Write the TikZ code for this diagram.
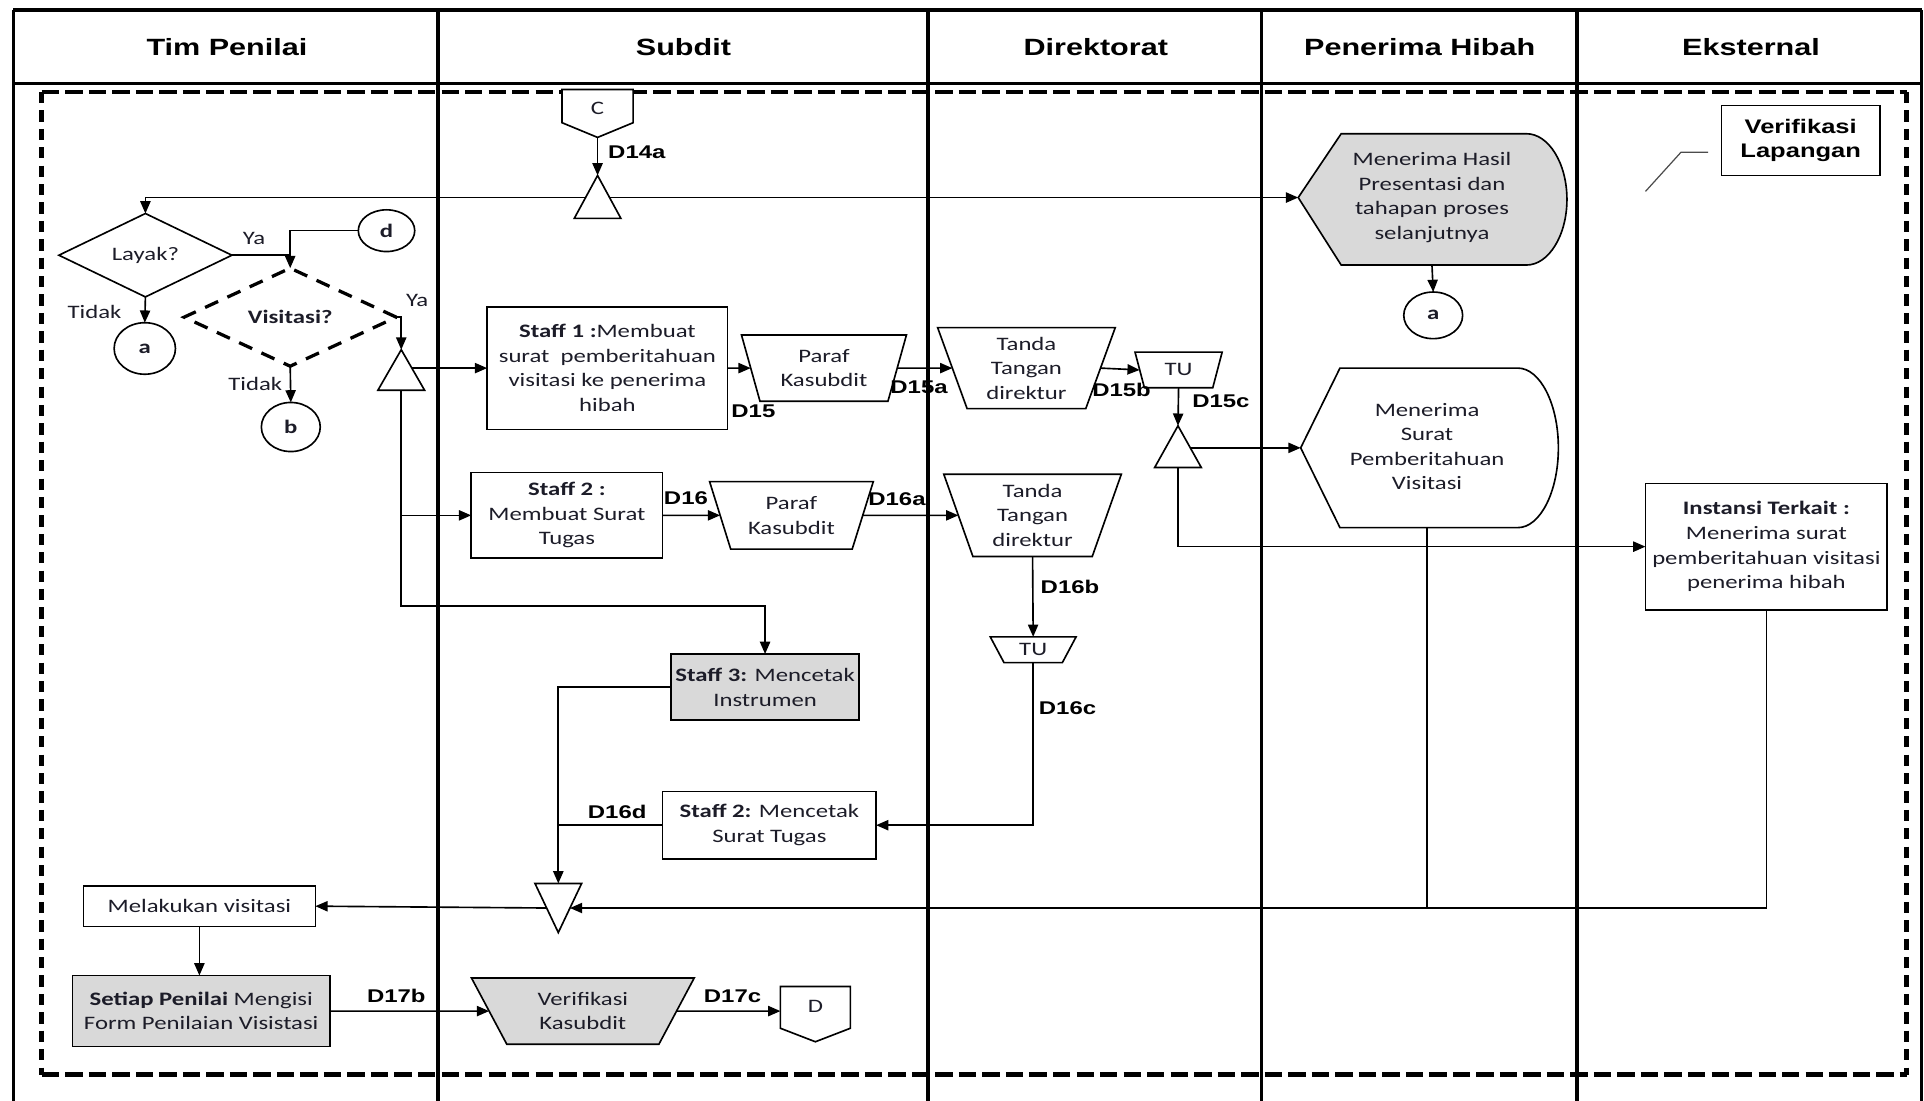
\documentclass[tikz,border=0pt]{standalone}
\usepackage{fontspec}
\setmainfont{Carlito}[FakeStretch=1.3]
\newfontfamily\hdfont{Liberation Sans}[FakeStretch=1.3]
\usetikzlibrary{shapes.geometric,arrows.meta,calc}
\definecolor{boxgray}{HTML}{D9D9D9}
\definecolor{txt}{HTML}{1C1C28}

\begin{document}
\begin{tikzpicture}[x=0.6pt,y=-0.6pt,
  every node/.style={inner sep=0pt, outer sep=0pt, text=txt,
    font=\fontsize{9.3}{12}\selectfont},
  wire/.style={line width=0.8pt},
  arr/.style={wire, -{Triangle[length=6pt,width=5pt]}},
  sz/.style 2 args={minimum width=#1*0.6pt, minimum height=#2*0.6pt},
  box/.style={draw, line width=0.8pt, rectangle, align=center},
  shadebox/.style={box, fill=boxgray},
  trap/.style={draw, line width=0.8pt, trapezium, shape border rotate=180,
    trapezium stretches=true, align=center},
  oval/.style={draw, line width=0.8pt, ellipse, font=\fontsize{9.3}{12}\selectfont\bfseries},
  dlabel/.style={font=\hdfont\fontsize{9}{11}\selectfont\bfseries, text=black},
  lane/.style={line width=1.8pt, black},
  frame/.style={line width=2.4pt, black}
]
\useasboundingbox (0,0) rectangle (1568,897);

% ---- swimlane frame ----
\draw[lane] (11,8) -- (1566,8);
\draw[lane] (11,68) -- (1566,68);
\draw[lane] (11,8) -- (11,897);
\draw[lane] (1566,8) -- (1566,897);
\foreach \xx in {357,756,1028,1285} \draw[lane] (\xx,8) -- (\xx,897);

\begin{scope}[every node/.style={font=\hdfont\fontsize{11.5}{13}\selectfont\bfseries, text=black}]
  \node (hTim) at (185,38) {Tim Penilai};
  \node (hSub) at (557,38) {Subdit};
  \node (hDir) at (893,38) {Direktorat};
  \node (hPen) at (1157,38) {Penerima Hibah};
  \node (hEks) at (1427,38) {Eksternal};
\end{scope}

% ---- dashed process boundary ----
\draw[frame, dash pattern=on 8.5pt off 3pt] (34,75) -- (1554,75);
\draw[frame, dash pattern=on 8.5pt off 3pt] (34,876) -- (1554,876);
\draw[frame, dash pattern=on 5.5pt off 3.5pt] (34,75) -- (34,876);
\draw[frame, dash pattern=on 5.5pt off 3.5pt] (1554,75) -- (1554,876);

% ---- off-page connector C and first merge ----
\draw[wire, fill=white] (458,73) -- (516,73) -- (516,100) -- (487,112) -- (458,100) -- cycle;
\node[font=\fontsize{9.3}{12}\selectfont] (cC) at (487,88) {C};
\coordinate (cCs) at (487,112);
\draw[wire, fill=white] (487,143) -- (506,178) -- (468,178) -- cycle;
\coordinate (m1top) at (487,143);
\coordinate (m1w) at (477,161);
\coordinate (m1e) at (497,161);

% ---- Tim Penilai decisions ----
\node[draw, line width=0.8pt, diamond, sz={141}{56}] (layak) at (118.5,208) {Layak?};
\node[draw, dashed, line width=1.6pt, dash pattern=on 7pt off 5pt, diamond, sz={173}{61},
  font=\fontsize{9.3}{12}\selectfont\bfseries] (visit) at (236.5,258.5) {Visitasi?};
\node[oval, sz={46}{34}] (cd) at (315,188) {d};
\node[oval, sz={50}{42}] (ca) at (118,284) {a};
\node[oval, sz={48}{40}] (cb) at (237,348) {b};

\node (yaA) at (207,194) {Ya};
\node (tdA) at (77,254) {Tidak};
\node (yaB) at (340,245) {Ya};
\node (tdB) at (208,313) {Tidak};

% second merge (below Visitasi "Ya")
\draw[wire, fill=white] (327,285) -- (346,318) -- (308,318) -- cycle;
\coordinate (m2top) at (327,285);
\coordinate (m2e) at (336,300);
\coordinate (m2bot) at (327,318);
\coordinate (m2turn) at (327,494);

% ---- Subdit / Direktorat row 1 ----
\node[box, sz={196}{100}] (s1) at (495,300)
  {\textbf{Staff 1 :}Membuat\\surat\ \ pemberitahuan\\visitasi ke penerima\\hibah};
\node[trap, trapezium angle=71.6, sz={135}{54}] (p1) at (671.5,300) {Paraf\\Kasubdit};
\node[trap, trapezium angle=72.3, sz={145}{66}] (t1) at (836.5,300) {Tanda\\Tangan\\direktur};
\node[trap, trapezium angle=72.8, sz={71}{29}, font=\fontsize{9.3}{12}\selectfont] (tu1) at (960.5,301.5) {TU};
\draw[wire, fill=white] (960,347) -- (979,381) -- (941,381) -- cycle;
\coordinate (m3top) at (960,347);
\coordinate (m3e) at (970,365);
\coordinate (m3bot) at (960,381);

% ---- row 2 ----
\node[box, sz={156}{70}] (s2) at (462,420) {\textbf{Staff 2 :}\\Membuat Surat\\Tugas};
\node[trap, trapezium angle=68.2, sz={134}{55}] (p2) at (645,420) {Paraf\\Kasubdit};
\node[trap, trapezium angle=72.6, sz={145}{67}] (t2) at (841.5,420) {Tanda\\Tangan\\direktur};
\node[trap, trapezium angle=62, sz={70}{21}] (tu2) at (842,529.5) {TU};

\node[shadebox, sz={153}{54}] (s3) at (623.5,560) {\textbf{Staff 3:} Mencetak\\Instrumen};
\node[box, sz={174}{55}] (s2b) at (627,672.5) {\textbf{Staff 2:} Mencetak\\Surat Tugas};

% fourth merge (pointing down)
\draw[wire, fill=white] (436,720) -- (474,720) -- (455,760) -- cycle;
\coordinate (m4top) at (455,720);
\coordinate (m4w) at (445.5,740);
\coordinate (m4e) at (464.5,740);

% ---- bottom row ----
\node[box, sz={189}{33}] (mv) at (162.5,738.5) {Melakukan visitasi};
\node[shadebox, sz={210}{58}] (sp) at (164,824) {\textbf{Setiap Penilai} Mengisi\\Form Penilaian Visistasi};
\node[trap, fill=boxgray, trapezium angle=61, sz={182}{54}] (vk) at (475,824) {Verifikasi\\Kasubdit};
\draw[wire, fill=white] (636,804) -- (693,804) -- (693,838) -- (664.5,849) -- (636,838) -- cycle;
\node (cD) at (664.5,820) {D};
\coordinate (cDw) at (636,824);

% ---- Penerima Hibah ----
\draw[wire, fill=boxgray] (1058,161) -- (1093,109) -- (1244,109)
  .. controls (1262,109) and (1277,133) .. (1277,162.5)
  .. controls (1277,192) and (1262,216) .. (1244,216) -- (1093,216) -- cycle;
\node[align=center] (hasil) at (1167,161) {Menerima Hasil\\Presentasi dan\\tahapan proses\\selanjutnya};
\coordinate (hasilW) at (1058,161);
\coordinate (hasilS) at (1167,216);
\node[oval, sz={48}{38}] (ca2) at (1168,257) {a};

\draw[wire, fill=white] (1060,365) -- (1092,300) -- (1237,300)
  .. controls (1255,300) and (1270,329) .. (1270,365)
  .. controls (1270,401) and (1255,430) .. (1237,430) -- (1092,430) -- cycle;
\node[align=center] (surat) at (1163,364) {Menerima\\Surat\\Pemberitahuan\\Visitasi};
\coordinate (suratW) at (1060,365);
\coordinate (suratS) at (1163,430);

% ---- Eksternal ----
\node[box, sz={197}{103}] (inst) at (1439.5,445.5)
  {\textbf{Instansi Terkait :}\\Menerima surat\\pemberitahuan visitasi\\penerima hibah};
\node[box, sz={129}{57}, font=\hdfont\fontsize{9.6}{11.4}\selectfont\bfseries, text=black]
  (vl) at (1467.5,114.5) {Verifikasi\\Lapangan};
\coordinate (vlA) at (1392,124);
\coordinate (vlB) at (1370,124);
\coordinate (vlC) at (1341,156);
\draw[line width=0.6pt, black!70] (vlA) -- (vlB) -- (vlC);

% ---- connectors ----
\draw[arr] (cCs) -- (m1top);
\draw[arr] (m1w) -| (layak.north);
\draw[arr] (m1e) -- (hasilW);
\draw[wire] (layak.east) -- (visit.north |- layak.east);
\draw[arr] (cd.west) -| (visit.north);
\draw[arr] (layak.south) -- (ca.north);
\draw[arr] (visit.south) -- (cb.north);
\draw[arr] (visit.east) -| (m2top);
\draw[arr] (m2e) -- (s1.west |- m2e);
\draw[arr] (m2bot) -- (m2turn) -| (s3.north);
\draw[arr] (m2bot |- s2.west) -- (s2.west);

\draw[arr] (s1.east) -- (p1.west);
\draw[arr] (p1.east) -- (t1.west);
\draw[arr] (t1.east) -- (tu1.west);
\draw[arr] (tu1.south) -- (m3top);
\draw[arr] (m3e) -- (suratW);
\draw[arr] (m3bot) |- (inst.west);

\draw[arr] (s2.east) -- (p2.west);
\draw[arr] (p2.east) -- (t2.west);
\draw[arr] (t2.south) -- (tu2.north);
\draw[arr] (tu2.south) |- (s2b.east);
\draw[arr] (s3.west) -| (m4top);
\draw[wire] (s2b.west) -- (m4top |- s2b.west);

\draw[arr] (hasilS) -- (ca2.north);
\draw[wire] (suratS) -- (suratS |- m4e);
\draw[arr] (inst.south) |- (m4e);
\draw[arr] (m4w) -- (mv.east);
\draw[arr] (mv.south) -- (mv.south |- sp.north);
\draw[arr] (sp.east) -- (vk.west);
\draw[arr] (vk.east) -- (cDw);

% ---- flow labels ----
\node[dlabel] (l14a) at (519,124) {D14a};
\node[dlabel] (l15) at (614,335) {D15};
\node[dlabel] (l15a) at (749,316) {D15a};
\node[dlabel] (l15b) at (914,318) {D15b};
\node[dlabel] (l15c) at (995,327) {D15c};
\node[dlabel] (l16) at (559,406) {D16};
\node[dlabel] (l16a) at (731,407) {D16a};
\node[dlabel] (l16b) at (872,478) {D16b};
\node[dlabel] (l16c) at (870,577) {D16c};
\node[dlabel] (l16d) at (503,662) {D16d};
\node[dlabel] (l17b) at (323,812) {D17b};
\node[dlabel] (l17c) at (597,812) {D17c};
\end{tikzpicture}
\end{document}
